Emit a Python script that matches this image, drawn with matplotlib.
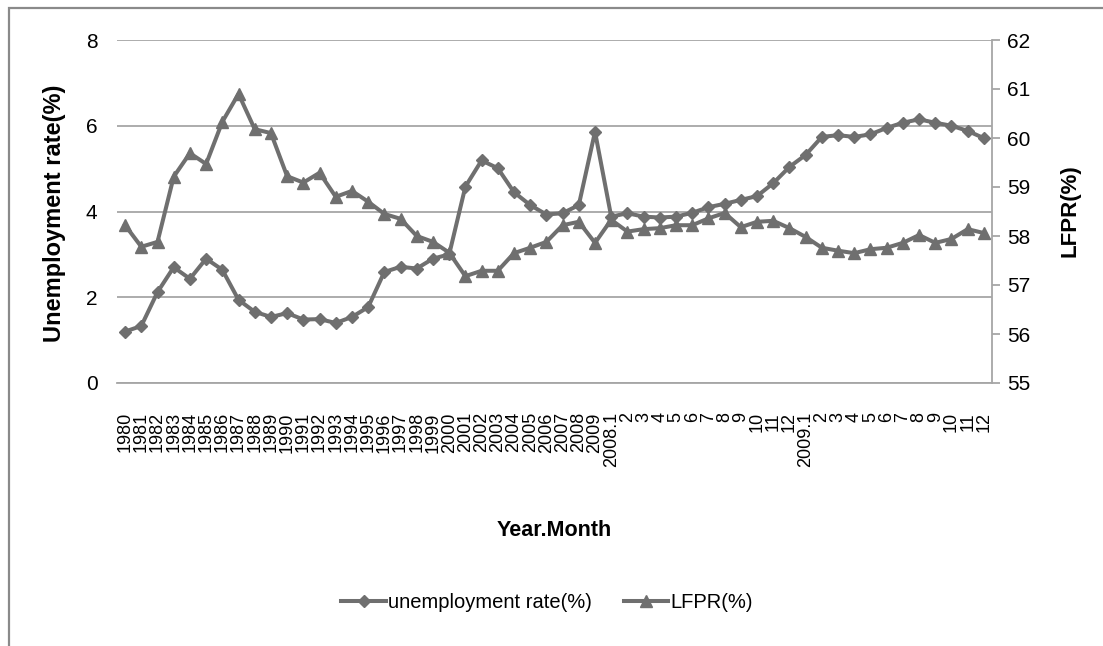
import numpy as np
import matplotlib
matplotlib.use('Agg')
import matplotlib.pyplot as plt
from matplotlib.patches import Rectangle

plt.rcParams['font.family'] = ['Liberation Sans', 'DejaVu Sans']

# category labels: yearly values, then monthly 2008 and 2009
years = [str(y) for y in range(1980, 2010)]
months_2008 = ['2008.1'] + [str(m) for m in range(2, 13)]
months_2009 = ['2009.1'] + [str(m) for m in range(2, 13)]
labels = years + months_2008 + months_2009

unemp_years = [1.2, 1.33, 2.12, 2.7, 2.43, 2.9, 2.64, 1.94, 1.66, 1.54,
               1.63, 1.48, 1.49, 1.4, 1.54, 1.77, 2.59, 2.71, 2.67, 2.9,
               3.0, 4.58, 5.19, 5.01, 4.45, 4.15, 3.93, 3.96, 4.15, 5.86]
unemp_2008 = [3.88, 3.96, 3.88, 3.86, 3.88, 3.97, 4.1, 4.18, 4.27, 4.36, 4.66, 5.04]
unemp_2009 = [5.32, 5.74, 5.78, 5.74, 5.8, 5.95, 6.07, 6.15, 6.07, 6.0, 5.88, 5.71]

lfpr_years = [58.22, 57.78, 57.88, 59.21, 59.69, 59.47, 60.33, 60.9, 60.18, 60.1,
              59.22, 59.09, 59.29, 58.8, 58.92, 58.7, 58.45, 58.35, 58.0, 57.88,
              57.66, 57.18, 57.29, 57.29, 57.65, 57.76, 57.88, 58.22, 58.29, 57.86]
lfpr_2008 = [58.33, 58.09, 58.14, 58.16, 58.22, 58.22, 58.36, 58.47, 58.18, 58.29, 58.31, 58.16]
lfpr_2009 = [57.98, 57.76, 57.7, 57.65, 57.73, 57.76, 57.86, 58.02, 57.86, 57.94, 58.14, 58.06]

unemp = unemp_years + unemp_2008 + unemp_2009
lfpr = lfpr_years + lfpr_2008 + lfpr_2009

W, H = 1103, 646
line_col = '#6f6f6f'
grid_col = '#a6a6a6'

fig = plt.figure(figsize=(W / 100, H / 100), dpi=100)
ax = fig.add_axes([117 / W, 1 - 383 / H, 875 / W, 343 / H])
ax2 = ax.twinx()

x = np.arange(len(labels))
l1, = ax.plot(x, unemp, color=line_col, lw=2.9, marker='D', ms=6.5,
              label='unemployment rate(%)', zorder=3)
l2, = ax2.plot(x, lfpr, color=line_col, lw=2.9, marker='^', ms=8.5,
               label='LFPR(%)', zorder=3)

ax.set_xlim(-0.5, len(labels) - 0.5)
ax.set_ylim(0, 8)
ax.set_yticks([0, 2, 4, 6, 8])
ax2.set_ylim(55, 62)
ax2.set_yticks(range(55, 63))

ax.yaxis.grid(True, color=grid_col, lw=1.3)
ax.set_axisbelow(True)
for s in ['top', 'left', 'right']:
    ax.spines[s].set_visible(False)
for s in ['top', 'left', 'bottom']:
    ax2.spines[s].set_visible(False)
ax.spines['bottom'].set_color(grid_col)
ax.spines['bottom'].set_linewidth(1.3)
ax2.spines['right'].set_color(grid_col)
ax2.spines['right'].set_linewidth(1.3)

ax.set_xticks(x)
ax.set_xticklabels(labels, rotation=90, va='top', ha='center', fontsize=13)
ax.tick_params(axis='x', length=0, pad=21)
ax.tick_params(axis='y', length=0, pad=14, labelsize=15)
ax2.tick_params(axis='y', length=6, width=1.3, color=grid_col, pad=5, labelsize=15)

fig.text(54 / W, 1 - 213 / H, 'Unemployment rate(%)', rotation=90,
         ha='center', va='center', fontsize=17, fontweight='bold')
fig.text(1070 / W, 1 - 211 / H, 'LFPR(%)', rotation=90,
         ha='center', va='center', fontsize=16, fontweight='bold')
fig.text(554 / W, 1 - 530 / H, 'Year.Month', ha='center', va='center',
         fontsize=15.5, fontweight='bold')

fig.legend(handles=[l1, l2], loc='center', bbox_to_anchor=(547 / W, 1 - 603 / H),
           ncol=2, frameon=False, fontsize=14.5, handlelength=2.2,
           handletextpad=0.1, columnspacing=1.6)

# outer chart frame (left and top edges)
fig.patches.append(Rectangle((9 / W, -0.1), 1.2, 1.1 - 8 / H, fill=False,
                             edgecolor='#8a8a8a', lw=1.6,
                             transform=fig.transFigure, clip_on=False))

fig.savefig('out.png', dpi=100)
